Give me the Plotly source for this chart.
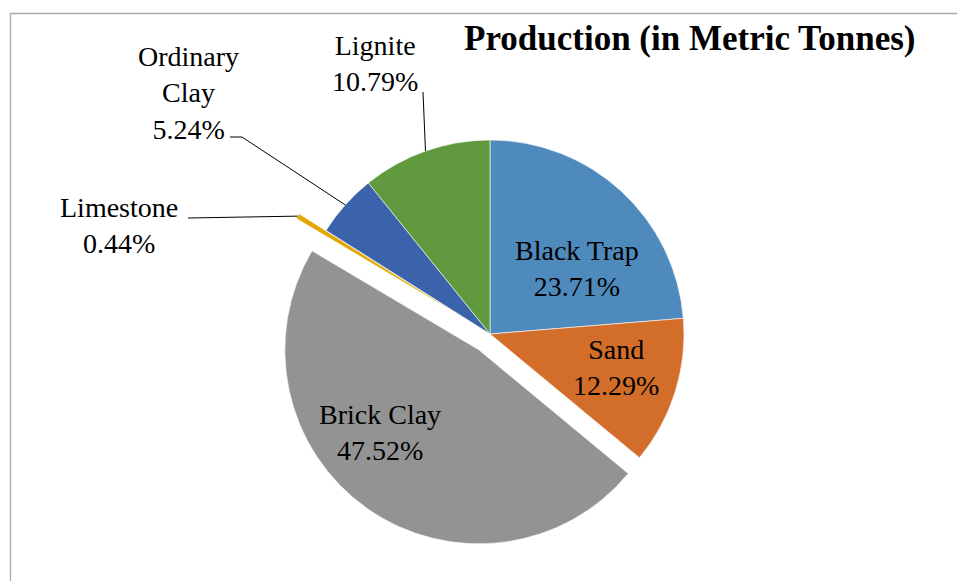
import math
import plotly.graph_objects as go

# Mineral production shares (percent of total metric tonnes)
minerals = ["Black Trap", "Sand", "Brick Clay", "Limestone", "Ordinary Clay", "Lignite"]
shares = [23.71, 12.29, 47.52, 0.44, 5.24, 10.79]
colors = ["#4F8ABD", "#D36E2A", "#939393", "#E3A700", "#3A63AB", "#61993E"]
pulls = [0, 0, 0.10, 0.163, 0, 0]
label_names = ["Black Trap", "Sand", "Brick Clay", "Limestone", "Ordinary<br>Clay", "Lignite"]

W, H = 957, 581
CX, CY, R = 490, 334, 194          # pie centre and radius in page pixels
FONT = "Liberation Serif"


def paper(x, y):
    return x / W, 1 - y / H


def slice_point(i, extra=0.0):
    """Point on the outer arc at the middle of slice i (clockwise from 12 o'clock)."""
    total = sum(shares)
    start = sum(shares[:i]) / total
    mid = start + shares[i] / total / 2
    ang = 2 * math.pi * mid
    rr = R + extra
    return CX + rr * math.sin(ang), CY - rr * math.cos(ang)


half = R * (1 + max(pulls))
dx0, dy0 = paper(CX - half, CY + half)
dx1, dy1 = paper(CX + half, CY - half)

fig = go.Figure(go.Pie(
    labels=minerals,
    values=shares,
    sort=False,
    direction="clockwise",
    rotation=0,
    pull=pulls,
    marker=dict(colors=colors, line=dict(color="white", width=0.6)),
    textinfo="none",
    hoverinfo="label+percent",
    showlegend=False,
    domain=dict(x=[dx0, dx1], y=[dy0, dy1]),
))

# label anchor positions (page pixels)
label_pos = {
    "Black Trap": (577, 268),
    "Sand": (616, 367),
    "Brick Clay": (380, 432),
    "Limestone": (119, 225),
    "Ordinary Clay": (188, 93),
    "Lignite": (375, 64),
}

annotations = []
for i, name in enumerate(minerals):
    x, y = label_pos[name]
    px_, py_ = paper(x, y)
    annotations.append(dict(
        x=px_, y=py_, xref="paper", yref="paper",
        text=f"{label_names[i]}<br>{shares[i]:.2f}%",
        showarrow=False, xanchor="center", yanchor="middle", align="center",
        font=dict(family=FONT, size=28, color="black"),
    ))

tx, ty = paper(689, 39)
annotations.append(dict(
    x=tx, y=ty, xref="paper", yref="paper",
    text="<b>Production (in Metric Tonnes)</b>",
    showarrow=False, xanchor="center", yanchor="middle",
    font=dict(family=FONT, size=35, color="black"),
))


def path_from(points):
    pts = [paper(x, y) for x, y in points]
    return "M " + " L ".join(f"{a},{b}" for a, b in pts)


idx = {n: i for i, n in enumerate(minerals)}
leader_paths = [
    [(423, 92), slice_point(idx["Lignite"])],
    [(230, 137), (242, 137), slice_point(idx["Ordinary Clay"])],
    [(188, 218), slice_point(idx["Limestone"], pulls[idx["Limestone"]] * R)],
]

shapes = [dict(type="path", xref="paper", yref="paper", path=path_from(p),
               line=dict(color="black", width=1)) for p in leader_paths]

bx0, by0 = paper(10.5, 13.5)
shapes.append(dict(type="rect", xref="paper", yref="paper",
                   x0=bx0, y0=-0.05, x1=1.05, y1=by0,
                   line=dict(color="#A9A9A9", width=1.3)))

fig.update_layout(
    width=W, height=H,
    margin=dict(l=0, r=0, t=0, b=0),
    paper_bgcolor="white",
    plot_bgcolor="white",
    annotations=annotations,
    shapes=shapes,
)

fig.write_html("out.html")
